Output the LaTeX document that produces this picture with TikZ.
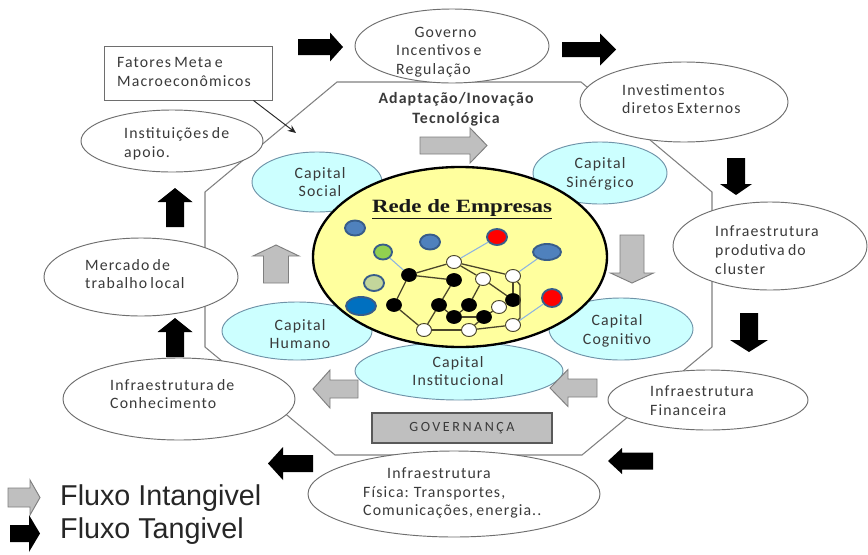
\documentclass[tikz,border=0pt]{standalone}
\usepackage{fontspec}
\usepackage{graphicx}
\usetikzlibrary{shapes.geometric,arrows.meta}
\setmainfont{Carlito}
\newfontfamily\calib[LetterSpace=7,WordSpace=0.7]{Carlito}
\newfontfamily\calibwide[LetterSpace=18]{Carlito}
\newfontfamily\titleserif{Liberation Serif}
\newfontfamily\legfont{Liberation Sans}

\definecolor{txt}{HTML}{3A3A3A}
\definecolor{edgegray}{HTML}{6E6E6E}
\definecolor{octgray}{HTML}{808080}
\definecolor{capfill}{HTML}{CCFFFF}
\definecolor{capborder}{HTML}{6F93A8}
\definecolor{redefill}{HTML}{FFFF9E}
\definecolor{netline}{HTML}{4A452A}
\definecolor{linkblue}{HTML}{8DB4E2}
\definecolor{dotblue}{HTML}{4F81BD}
\definecolor{dotborder}{HTML}{385D8A}
\definecolor{dotdark}{HTML}{0070C0}
\definecolor{dotgreen}{HTML}{92D050}
\definecolor{dotpale}{HTML}{C3D69B}
\definecolor{grayfill}{HTML}{BFBFBF}
\definecolor{grayedge}{HTML}{7F7F7F}
\definecolor{govedge}{HTML}{595959}

\newcommand\bodyfont{\calib\fontsize{13.5}{16}\selectfont}
% block arrow: style, tail x, tail y, angle, length, shaft half width, head half width, head length
\newcommand\flowarrow[8]{%
  \path[#1,shift={(#2,#3)},rotate=#4]
    (0,-#6) -- ({#5-#8},-#6) -- ({#5-#8},-#7) -- (#5,0)
    -- ({#5-#8},#7) -- ({#5-#8},#6) -- (0,#6) -- cycle;}

\begin{document}
\begin{tikzpicture}[x=0.03cm,y=-0.03cm,
  ew/.style={minimum width=#1*0.03cm},
  eh/.style={minimum height=#1*0.03cm},
  whiteell/.style={ellipse, draw=edgegray, line width=0.8pt, fill=white, inner sep=0pt},
  capell/.style={ellipse, draw=capborder, line width=0.8pt, fill=capfill, inner sep=0pt},
  lbl/.style={inner sep=0pt, text=txt, font=\bodyfont, align=left, anchor=west},
  caplbl/.style={inner sep=0pt, text=txt, font=\bodyfont, align=center},
  bdot/.style={ellipse, draw=black, fill=black, line width=0.6pt, inner sep=0pt, ew=15, eh=13},
  wdot/.style={ellipse, draw=netline, fill=white, line width=0.8pt, inner sep=0pt, ew=15, eh=13},
  cdot/.style={ellipse, draw=dotborder, line width=1.6pt, inner sep=0pt},
  net/.style={draw=netline, line width=1.1pt},
  link/.style={draw=linkblue, line width=0.9pt},
  blackflow/.style={fill=black},
  grayflow/.style={fill=grayfill, draw=grayedge, line width=0.8pt}]

\useasboundingbox (0,0) rectangle (868,554);
\fill[white] (0,0) rectangle (868,554);

% octagonal frame of the cluster
\draw[octgray, line width=0.9pt] (337,82) -- (581,82) -- (712,192) -- (712,347)
  -- (582,455) -- (335,455) -- (205,347) -- (205,192) -- cycle;

% outer ring of actors
\node[whiteell, ew=194, eh=74] (gov) at (452,46) {};
\node[whiteell, ew=208, eh=80] (inv) at (684,102) {};
\node[whiteell, ew=194, eh=88] (prod) at (770,246) {};
\node[whiteell, ew=200, eh=60] (fin) at (708,400) {};
\node[whiteell, ew=292, eh=86] (fis) at (454,494) {};
\node[whiteell, ew=232, eh=82] (con) at (179,399) {};
\node[whiteell, ew=194, eh=78] (mer) at (141,277) {};
\node[whiteell, ew=182, eh=62] (ins) at (172,141) {};
\node[draw=edgegray, line width=0.8pt, fill=white, inner sep=0pt,
      minimum width=168*0.03cm, minimum height=54*0.03cm] (fat) at (188,73) {};

\node[lbl] (gov-t) at (396,52) {\hspace{0.55cm}Governo\\Incentivos e\\Regulação};
\node[lbl] (inv-t) at (622,99) {Investimentos\\diretos Externos};
\node[lbl] (prod-t) at (715,250) {Infraestrutura\\produtiva do\\cluster};
\node[lbl] (fin-t) at (650,401) {Infraestrutura\\Financeira};
\node[lbl] (fis-t) at (363,493) {\hspace{0.72cm}Infraestrutura\\Física: Transportes,\\Comunicações, energia..};
\node[lbl] (con-t) at (110,394) {Infraestrutura de\\Conhecimento};
\node[lbl] (mer-t) at (85,274) {Mercado de\\trabalho local};
\node[lbl] (ins-t) at (124,144) {Instituições de\\apoio.};
\node[lbl] (fat-t) at (117,72) {Fatores Meta e\\Macroeconômicos};

\coordinate (fat-tip) at (296,133);
\draw[-{Stealth[length=7pt,width=6pt]}, line width=0.8pt, black!85]
  ([xshift=-0.57cm]fat.south east) -- (fat-tip);

% forms of capital
\node[capell, ew=130, eh=60] (social) at (317,182) {};
\node[capell, ew=134, eh=62] (siner) at (600,173) {};
\node[capell, ew=144, eh=62] (cogn) at (621,329) {};
\node[capell, ew=150, eh=58] (human) at (297,331) {};
\node[capell, ew=208, eh=58] (instit) at (459,371) {};

\node[caplbl] (social-t) at (320,182) {Capital\\Social};
\node[caplbl] (siner-t) at (600,174) {Capital\\Sinérgico};
\node[caplbl] (cogn-t) at (617,331) {Capital\\Cognitivo};
\node[caplbl] (human-t) at (300,334) {Capital\\Humano};
\node[caplbl] (instit-t) at (458,371) {Capital\\Institucional};

% the network of firms
\node[ellipse, draw=black, line width=2pt, fill=redefill, inner sep=0pt, ew=294, eh=180] (rede) at (460,257) {};
\node[inner sep=0pt, text=black!90, font=\titleserif\bfseries\fontsize{16}{18}\selectfont]
  (rede-t) at (462,209) {\scalebox{1.22}[1]{\underline{Rede de Empresas}}};

\node[cdot, fill=dotblue, ew=20, eh=15] (c1) at (355,228) {};
\node[cdot, fill=dotgreen, ew=18, eh=15] (c2) at (383,252) {};
\node[cdot, fill=dotblue, ew=20, eh=15] (c3) at (430,242) {};
\node[cdot, fill=red, ew=20, eh=16] (c4) at (497,237) {};
\node[cdot, fill=dotblue, ew=28, eh=16] (c5) at (547,252) {};
\node[cdot, fill=dotpale, ew=20, eh=16] (c6) at (374,283) {};
\node[cdot, fill=dotdark, ew=30, eh=18] (c7) at (361,306) {};
\node[cdot, fill=red, ew=20, eh=18] (c8) at (552,298) {};

\coordinate (n1) at (520,285);
\coordinate (n2) at (520,318);

\node[bdot] (b1) at (409,275) {};
\node[bdot] (b2) at (454,280) {};
\node[bdot] (b3) at (394,305) {};
\node[bdot] (b4) at (439,305) {};
\node[bdot] (b5) at (469,305) {};
\node[bdot] (b6) at (513,300) {};
\node[bdot] (b7) at (454,317) {};
\node[bdot] (b8) at (484,317) {};
\node[wdot] (w1) at (454,262) {};
\node[wdot] (w2) at (483,279) {};
\node[wdot] (w3) at (513,276) {};
\node[wdot] (w4) at (499,307) {};
\node[wdot] (w5) at (424,330) {};
\node[wdot] (w6) at (469,330) {};
\node[wdot] (w7) at (513,325) {};

\path[net] (b1) -- (w1);
\path[net] (b1) -- (b2);
\path[net] (b1) -- (b3);
\path[net] (b3) -- (w5);
\path[net] (w5) -- (w6);
\path[net] (w6) -- (w7);
\path[net] (w1) -- (w3);
\path[net] (w1) -- (w2);
\path[net] (w2) -- (b5);
\path[net] (w2) -- (b6);
\path[net] (b2) -- (b4);
\path[net] (b4) -- (b7);
\path[net] (b4) -- (w5);
\path[net] (b7) -- (b8);
\path[net] (b5) -- (b7);
\path[net] (b8) -- (w4);
\path[net] (w4) -- (b6);
\path[net] (w6) -- (b8);
\path[net] (w3) -- (b6);
\path[net] (w3) -- (n1) -- (n2) -- (w7);
\path[link] (c2) -- (b1);
\path[link] (c4) -- (w1);
\path[link] (c5) -- (w3);
\path[link] (c8) -- (w7);

% labels of the frame
\node[inner sep=0pt, text=txt, font=\calib\bfseries\fontsize{13.5}{17}\selectfont, align=center]
  (adapt-t) at (456,109) {Adaptação/Inovação\\Tecnológica};
\node[draw=govedge, line width=1.2pt, fill=grayfill, inner sep=0pt, text=txt,
      minimum width=180*0.03cm, minimum height=30*0.03cm,
      font=\calibwide\fontsize{12}{14}\selectfont] (govern) at (462,428) {GOVERNANÇA};

% tangible flows around the ring
\flowarrow{blackflow}{298}{47}{0}{45}{8}{14.5}{13}
\flowarrow{blackflow}{562}{49.5}{0}{54}{7.5}{16}{16}
\flowarrow{blackflow}{736}{158}{-90}{37}{9}{16}{11}
\flowarrow{blackflow}{749}{313}{-90}{39}{9}{19}{12}
\flowarrow{blackflow}{653}{461}{180}{45}{8.5}{13}{14}
\flowarrow{blackflow}{313}{463.5}{180}{45}{8.5}{16.5}{15}
\flowarrow{blackflow}{175}{227}{90}{39}{9}{17.5}{14}
\flowarrow{blackflow}{175}{357}{90}{39}{9}{17.5}{14}

% intangible flows inside the frame
\flowarrow{grayflow}{420}{145.5}{0}{67}{8.5}{17.5}{17}
\flowarrow{grayflow}{276}{283}{90}{38}{12.5}{23}{11}
\flowarrow{grayflow}{632}{235}{-90}{48}{12}{21.5}{10}
\flowarrow{grayflow}{358}{389}{180}{45}{9}{19}{17}
\flowarrow{grayflow}{597}{388}{180}{47}{9}{18.5}{18}

% legend
\flowarrow{grayflow}{8}{497.5}{0}{32}{9.5}{17.5}{10}
\flowarrow{blackflow}{10}{533.5}{0}{30}{8.5}{18.5}{11}
\node[anchor=west, inner sep=0pt, text=black!85, font=\legfont\fontsize{24.5}{28}\selectfont]
  (leg-int) at (60,498) {Fluxo Intangivel};
\node[anchor=west, inner sep=0pt, text=black!85, font=\legfont\fontsize{24.5}{28}\selectfont]
  (leg-tan) at (60,531) {Fluxo Tangivel};
\end{tikzpicture}
\end{document}
